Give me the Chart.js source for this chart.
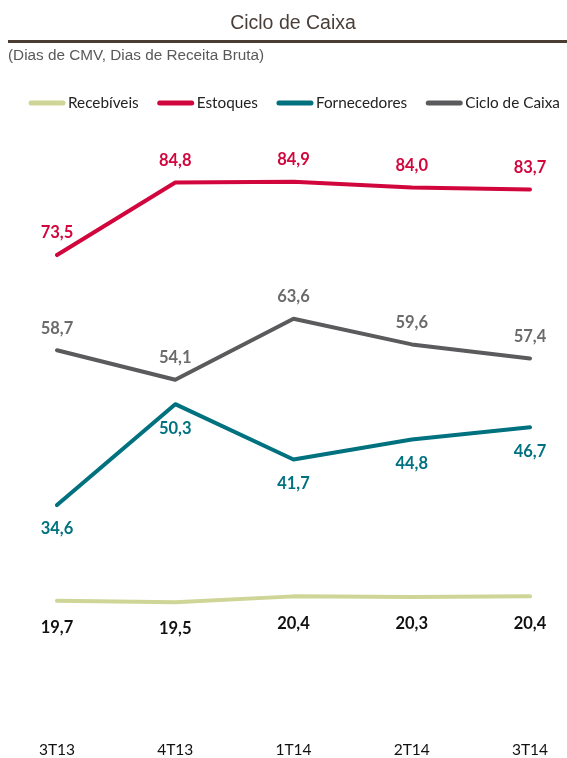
<!DOCTYPE html>
<html>
<head>
<meta charset="utf-8">
<script src="https://cdn.jsdelivr.net/npm/chart.js@4/dist/chart.umd.min.js"></script>
<style>
  html, body { margin: 0; padding: 0; background: #fff; }
  #wrap { position: relative; width: 567px; height: 758px; overflow: hidden; }
  #title { position: absolute; left: 0; top: 11px; width: 586px; text-align: center;
           font: 19.5px "Liberation Sans", Arial, sans-serif; color: #4a3f38; }
  #rule { position: absolute; left: 8px; top: 40px; width: 559px; height: 3px; background: #4a3d33; }
  #subtitle { position: absolute; left: 8px; top: 46px; font: 15.3px "Liberation Sans", Arial, sans-serif; color: #595959; }
  canvas { position: absolute; left: 0; top: 0; }
</style>
</head>
<body>
<div id="wrap">
  <canvas id="c" width="567" height="758"></canvas>
  <div id="title">Ciclo de Caixa</div>
  <div id="rule"></div>
  <div id="subtitle">(Dias de CMV, Dias de Receita Bruta)</div>
</div>
<script>
const categories = ["3T13", "4T13", "1T14", "2T14", "3T14"];
const recebiveis = [19.7, 19.5, 20.4, 20.3, 20.4];
const estoques = [73.5, 84.8, 84.9, 84.0, 83.7];
const fornecedores = [34.6, 50.3, 41.7, 44.8, 46.7];
const cicloCaixa = [58.7, 54.1, 63.6, 59.6, 57.4];

const fmt = v => v.toFixed(1).replace('.', ',');
const FONT = 'Lato, "Open Sans", sans-serif';

const labelPlugin = {
  id: 'valueLabels',
  afterDatasetsDraw(chart) {
    const ctx = chart.ctx;
    ctx.save();
    ctx.font = 'bold 16.5px ' + FONT;
    ctx.textAlign = 'center';
    ctx.textBaseline = 'middle';
    chart.data.datasets.forEach((ds, i) => {
      const meta = chart.getDatasetMeta(i);
      ctx.fillStyle = ds.labelColor;
      meta.data.forEach((pt, j) => {
        ctx.fillText(fmt(ds.data[j]), pt.x, pt.y + ds.labelOffset);
      });
    });
    ctx.restore();
  }
};

// legend drawn on the canvas from the datasets (line swatch + label)
const lineLegend = {
  id: 'lineLegend',
  afterDraw(chart, args, opts) {
    const ctx = chart.ctx;
    ctx.save();
    ctx.font = opts.fontSize + 'px ' + FONT;
    ctx.textBaseline = 'middle';
    ctx.textAlign = 'left';
    let x = opts.x;
    const y = opts.y;
    chart.data.datasets.forEach(ds => {
      ctx.strokeStyle = ds.borderColor;
      ctx.lineWidth = opts.lineWidth;
      ctx.lineCap = 'round';
      ctx.beginPath();
      ctx.moveTo(x + 2, y);
      ctx.lineTo(x + opts.swatch - 2, y);
      ctx.stroke();
      const tx = x + opts.swatch + opts.gap;
      ctx.fillStyle = opts.color;
      ctx.fillText(ds.label, tx, y);
      x = tx + ctx.measureText(ds.label).width + opts.itemGap;
    });
    ctx.restore();
  }
};

new Chart(document.getElementById('c'), {
  type: 'line',
  data: {
    labels: categories,
    datasets: [
      { label: 'Recebíveis', data: recebiveis, borderColor: '#cfd596', backgroundColor: '#cfd596',
        labelColor: '#111', labelOffset: 27 },
      { label: 'Estoques', data: estoques, borderColor: '#d1063d', backgroundColor: '#d1063d',
        labelColor: '#d1063d', labelOffset: -22 },
      { label: 'Fornecedores', data: fornecedores, borderColor: '#00717f', backgroundColor: '#00717f',
        labelColor: '#00717f', labelOffset: 24 },
      { label: 'Ciclo de Caixa', data: cicloCaixa, borderColor: '#5b5a5d', backgroundColor: '#5b5a5d',
        labelColor: '#6b6b6b', labelOffset: -22 }
    ]
  },
  options: {
    responsive: false,
    animation: false,
    devicePixelRatio: 1,
    layout: { padding: { top: 149, left: 57, right: 37, bottom: -14 } },
    elements: {
      line: { borderWidth: 4, tension: 0, borderCapStyle: 'round', borderJoinStyle: 'round' },
      point: { radius: 0, hoverRadius: 0 }
    },
    scales: {
      x: {
        offset: false,
        grid: { display: false, drawTicks: false },
        border: { display: false },
        ticks: { padding: 14.5, color: '#111', font: { family: FONT, size: 15.5, lineHeight: 1 } }
      },
      y: { display: false, min: 0, max: 90 }
    },
    plugins: {
      legend: { display: false },
      lineLegend: { x: 29, y: 103, swatch: 36, gap: 3, itemGap: 19, lineWidth: 5, fontSize: 15.3, color: '#222' },
      tooltip: { enabled: false },
      title: { display: false }
    }
  },
  plugins: [labelPlugin, lineLegend]
});
</script>
</body>
</html>
